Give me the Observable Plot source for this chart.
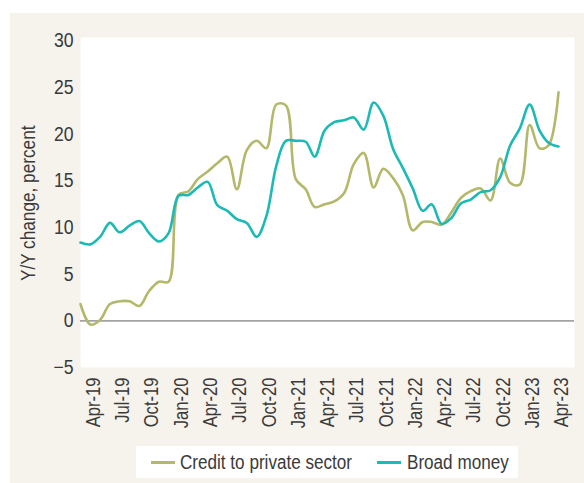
<!DOCTYPE html>
<html>
<head>
<meta charset="utf-8">
<script src="https://cdn.jsdelivr.net/npm/d3@7"></script>
<script src="https://cdn.jsdelivr.net/npm/@observablehq/plot@0.6"></script>
<style>
  html, body { margin: 0; padding: 0; background: #ffffff; }
  #wrap { position: relative; width: 584px; height: 483px; overflow: hidden; }
  #panel { position: absolute; left: 10px; top: 13px; right: 0; bottom: 0; background: #f6f2ec; }
  #chart { position: absolute; left: 0; top: 0; }
  #legend { position: absolute; left: 136px; top: 446px; width: 382px; height: 32px; background: #ffffff;
            font-family: 'Liberation Sans', Arial, sans-serif; font-size: 20px; color: #3a3a3a; }
  .sw { position: absolute; top: 15px; width: 24px; height: 3px; }
  .lt { position: absolute; top: 3px; line-height: 26px; white-space: nowrap; transform: scaleX(0.855); transform-origin: 0 50%; }
</style>
</head>
<body>
<div id="wrap">
  <div id="panel"></div>
  <div id="chart"></div>
  <div id="legend"></div>
</div>
<script>
const months = ["2019-03","2019-04","2019-05","2019-06","2019-07","2019-08","2019-09","2019-10","2019-11","2019-12",
  "2020-01","2020-02","2020-03","2020-04","2020-05","2020-06","2020-07","2020-08","2020-09","2020-10","2020-11","2020-12",
  "2021-01","2021-02","2021-03","2021-04","2021-05","2021-06","2021-07","2021-08","2021-09","2021-10","2021-11","2021-12",
  "2022-01","2022-02","2022-03","2022-04","2022-05","2022-06","2022-07","2022-08","2022-09","2022-10","2022-11","2022-12",
  "2023-01","2023-02","2023-03","2023-04"];

const credit = [1.8, -0.4, 0.1, 1.8, 2.1, 2.1, 1.6, 3.2, 4.2, 4.2,
  13.5, 13.9, 15.2, 16.0, 16.9, 17.6, 14.1, 18.3, 19.3, 18.5,
  23.2, 23.1, 15.2, 14.1, 12.2, 12.5, 12.8, 13.7, 16.8, 18.0,
  14.3, 16.3, 15.3, 13.5, 9.7, 10.6, 10.6, 10.3, 11.6, 13.2,
  13.9, 14.2, 12.9, 17.4, 14.8, 14.6, 21.0, 18.5, 18.8, 24.5];

const broadMoney = [8.4, 8.2, 9.0, 10.5, 9.5, 10.2, 10.7, 9.4, 8.5, 9.4,
  13.4, 13.5, 14.3, 14.9, 12.4, 11.8, 10.9, 10.5, 9.0, 11.2,
  16.6, 19.3, 19.3, 19.2, 17.6, 20.4, 21.3, 21.5, 21.8, 20.5,
  23.4, 22.0, 18.4, 16.4, 14.2, 11.8, 12.5, 10.4, 11.0, 12.6,
  13.0, 13.8, 14.0, 15.4, 18.8, 20.6, 23.2, 20.4, 19.1, 18.7];

const seriesNames = ["Credit to private sector", "Broad money"];
const seriesColors = ["#b3b86b", "#1db9b5"];

const tickMonths = ["2019-04","2019-07","2019-10","2020-01","2020-04","2020-07","2020-10","2021-01","2021-04",
  "2021-07","2021-10","2022-01","2022-04","2022-07","2022-10","2023-01","2023-04"];
const tickLabels = ["Apr-19","Jul-19","Oct-19","Jan-20","Apr-20","Jul-20","Oct-20","Jan-21","Apr-21",
  "Jul-21","Oct-21","Jan-22","Apr-22","Jul-22","Oct-22","Jan-23","Apr-23"];
const yTicks = [-5, 0, 5, 10, 15, 20, 25, 30];
const yTitle = "Y/Y change, percent";

const toDate = m => new Date(m + "-01T00:00:00Z");
const rows = [];
months.forEach((m, i) => {
  rows.push({date: toDate(m), value: credit[i], series: seriesNames[0]});
  rows.push({date: toDate(m), value: broadMoney[i], series: seriesNames[1]});
});
const tickDates = tickMonths.map(toDate);
const labelMap = new Map(tickDates.map((d, i) => [+d, tickLabels[i]]));

const font = "'Liberation Sans', Arial, sans-serif";

const chart = Plot.plot({
  width: 584,
  height: 445,
  marginLeft: 80,
  marginRight: 10,
  marginTop: 37,
  marginBottom: 78,
  style: {background: "transparent", fontFamily: font, fontSize: "20px", color: "#3a3a3a", overflow: "visible"},
  x: {type: "utc", domain: [toDate(months[0]), toDate(months[months.length - 1])], insetRight: 16},
  y: {domain: [-5, 30], insetTop: 3.5},
  color: {domain: seriesNames, range: seriesColors},
  marks: [
    Plot.frame({fill: "#ffffff", stroke: null}),
    Plot.ruleY([0], {stroke: "#a3a3a3", strokeWidth: 1.6}),
    Plot.axisY({ticks: yTicks, tickSize: 0, tickPadding: 7, label: null, fill: "#3a3a3a"}),
    Plot.axisX({ticks: tickDates, tickFormat: d => labelMap.get(+d), tickSize: 0, tickRotate: -90,
      tickPadding: 10, dx: 3, label: null, fill: "#3a3a3a"}),
    Plot.text([yTitle], {text: d => d, frameAnchor: "left", textAnchor: "end", dx: -51.5, dy: -77, rotate: -90,
      fill: "#3a3a3a", fontSize: 20}),
    Plot.line(rows, {x: "date", y: "value", z: "series", stroke: "series", strokeWidth: 2.6,
      curve: "catmull-rom"})
  ]
});
document.getElementById("chart").appendChild(chart);

// condense the text to mimic the narrow typeface of the original
function condense(selector, k) {
  chart.querySelectorAll(selector).forEach(t => {
    const len = t.getComputedTextLength();
    if (len > 0) {
      t.setAttribute("textLength", (len * k).toFixed(1));
      t.setAttribute("lengthAdjust", "spacingAndGlyphs");
    }
  });
}
condense('g[aria-label="x-axis tick label"] text', 0.83);
condense('g[aria-label="y-axis tick label"] text', 0.88);
condense('g[aria-label="text"] text', 0.86);

// legend
const legend = document.getElementById("legend");
const swLeft = [15, 241];
const txLeft = [44, 271];
seriesNames.forEach((name, i) => {
  const sw = document.createElement("div");
  sw.className = "sw";
  sw.style.left = swLeft[i] + "px";
  sw.style.background = seriesColors[i];
  legend.appendChild(sw);
  const t = document.createElement("div");
  t.className = "lt";
  t.style.left = txLeft[i] + "px";
  t.textContent = name;
  legend.appendChild(t);
});
</script>
</body>
</html>
